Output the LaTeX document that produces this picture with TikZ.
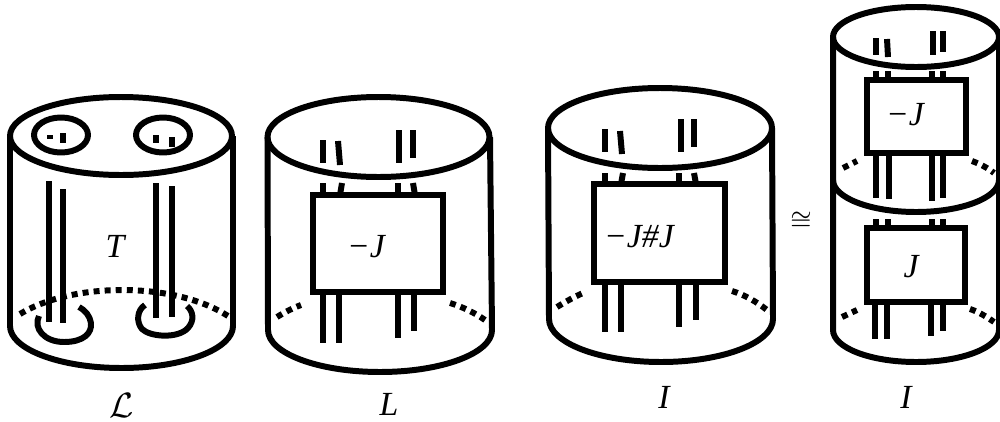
\documentclass[tikz,border=0pt]{standalone}
\usepackage{fontspec}
\setmainfont{Liberation Serif}
\begin{document}
\begin{tikzpicture}[x=0.01cm,y=-0.01cm,
  rope/.style={line width=1.7pt,line cap=butt},
  shell/.style={line width=1.7pt,line join=round},
  hidden/.style={line width=1.7pt,dash pattern=on 1.7pt off 1.45pt},
  panel/.style={line width=1.75pt,fill=white,line join=miter},
  lab/.style={inner sep=0pt,font=\fontsize{9.6pt}{11pt}\selectfont\itshape}]
\useasboundingbox (0,0) rectangle (1000,421);

% --- cylinder 1 ---
\draw[shell] (121,136) ellipse [x radius=111,y radius=39];
\draw[shell] (10,136) -- (10,326) arc[start angle=180,end angle=0,x radius=111.5,y radius=42] -- (233,136);
\draw[hidden] (20,314) .. controls (50,296) and (90,290) .. (122,290) .. controls (160,290) and (200,298) .. (228,316);
\draw[shell] (61,135) ellipse [x radius=27,y radius=17.5];
\draw[shell] (163,135) ellipse [x radius=27,y radius=17.5];
\draw[rope,line width=1.4pt] (47,137) -- (53,137);
\draw[rope] (63,133) -- (63,143);
\draw[rope] (156,135) -- (156,143);
\draw[rope] (172,137) -- (172,147);
\draw[rope] (49,181) -- (49,322);
\draw[rope] (63,189) -- (63,323);
\draw[rope] (156,183) -- (156,318);
\draw[rope] (172,186) -- (172,317);
\draw[shell] (39,316) .. controls (33,328) and (44,342) .. (64,342) .. controls (84,342) and (92,333) .. (91,323) .. controls (90,316) and (85,310) .. (79,307);
\draw[shell] (145,305) .. controls (137,310) and (136,322) .. (142,329) .. controls (150,337) and (178,339) .. (188,328) .. controls (195,320) and (193,311) .. (187,306);
\node[lab] (T) at (115,246) {T};
\node[lab,font=\fontsize{10pt}{11pt}\selectfont] (Lcal) at (122,405) {$\mathcal{L}$};

% --- cylinder 2 ---
\draw[shell] (378.5,137) ellipse [x radius=111,y radius=40];
\draw[shell] (267.5,137) -- (268,330) arc[start angle=180,end angle=0,x radius=112,y radius=42] -- (490,137);
\draw[hidden] (277,317) .. controls (285,312) and (293,308) .. (301,305);
\draw[hidden] (450,303) .. controls (463,307) and (475,313) .. (485,320);
\draw[rope] (323,183) -- (323,195);
\draw[rope] (342,183) -- (340,195);
\draw[rope] (398,183) -- (398,195);
\draw[rope] (413,183) -- (415,195);
\draw[rope] (323,140) -- (323,163);
\draw[rope] (338,141) -- (340,165);
\draw[rope] (399,130) -- (399,163);
\draw[rope] (413,130) -- (413,158);
\draw[rope] (323,292) -- (323,343);
\draw[rope] (339,292) -- (339,343);
\draw[rope] (398,292) -- (398,338);
\draw[rope] (414,292) -- (414,331);
\draw[panel] (313,195) rectangle (443,292);
\node[lab] (mJ) at (366,247) {−J};
\node[lab] (L) at (389,404) {L};

% --- cylinder 3 ---
\draw[shell] (660,128) ellipse [x radius=112,y radius=40];
\draw[shell] (548,128) -- (549,319) arc[start angle=180,end angle=0,x radius=112,y radius=43] -- (772,128);
\draw[hidden] (557,307) .. controls (565,302) and (574,297) .. (583,293);
\draw[hidden] (732,291) .. controls (745,295) and (757,302) .. (767,310);
\draw[rope] (605,173) -- (605,184);
\draw[rope] (623,173) -- (621,184);
\draw[rope] (679,173) -- (679,184);
\draw[rope] (694,173) -- (696,184);
\draw[rope] (605,129) -- (605,152);
\draw[rope] (620,131) -- (622,154);
\draw[rope] (681,119) -- (681,152);
\draw[rope] (694,119) -- (694,147);
\draw[rope] (605,282) -- (605,332);
\draw[rope] (621,282) -- (621,332);
\draw[rope] (679,282) -- (679,327);
\draw[rope] (696,282) -- (696,320);
\draw[panel] (594,184) rectangle (725,282);
\node[lab] (mJJ) at (639,237) {−J\#J};
\node[lab] (I1) at (664,397) {I};

% --- cylinder 4 ---
\node[inner sep=0pt,font=\fontsize{7pt}{9pt}\selectfont] (iso) at (801,221) {$\cong$};
\draw[shell] (916,37) ellipse [x radius=83,y radius=30];
\draw[shell] (833,37) -- (833,330) arc[start angle=180,end angle=0,x radius=83,y radius=32] -- (999,37);
\draw[shell] (833,180) arc[start angle=180,end angle=0,x radius=83,y radius=32];
\draw[hidden] (843,168) -- (857,161);
\draw[hidden] (972,161) .. controls (980,164) and (988,168) .. (994,173);
\draw[hidden] (842,317) -- (857,310);
\draw[hidden] (970,309) .. controls (979,312) and (987,317) .. (994,322);
% upper tangle
\draw[rope] (876,71) -- (876,80);
\draw[rope] (888,71) -- (888,80);
\draw[rope] (932,71) -- (932,80);
\draw[rope] (943,71) -- (943,80);
\draw[rope] (876,38) -- (876,55);
\draw[rope] (887,39) -- (888,57);
\draw[rope] (933,31) -- (933,55);
\draw[rope] (943,31) -- (943,52);
\draw[rope] (876,153) -- (876,198);
\draw[rope] (889,153) -- (889,199);
\draw[rope] (932,153) -- (932,201);
\draw[rope] (943,153) -- (943,198);
\draw[panel] (867,80) rectangle (966,153);
\node[lab] (mJ2) at (905,115) {−J};
% lower tangle
\draw[rope] (876,219) -- (876,228);
\draw[rope] (888,219) -- (888,228);
\draw[rope] (932,219) -- (932,228);
\draw[rope] (943,219) -- (943,228);
\draw[rope] (875,302) -- (875,339);
\draw[rope] (887,302) -- (887,339);
\draw[rope] (931,302) -- (931,336);
\draw[rope] (943,302) -- (943,331);
\draw[panel] (867,228) rectangle (965,302);
\node[lab] (J2) at (911,267) {J};
\node[lab] (I2) at (906,397) {I};
\end{tikzpicture}
\end{document}
